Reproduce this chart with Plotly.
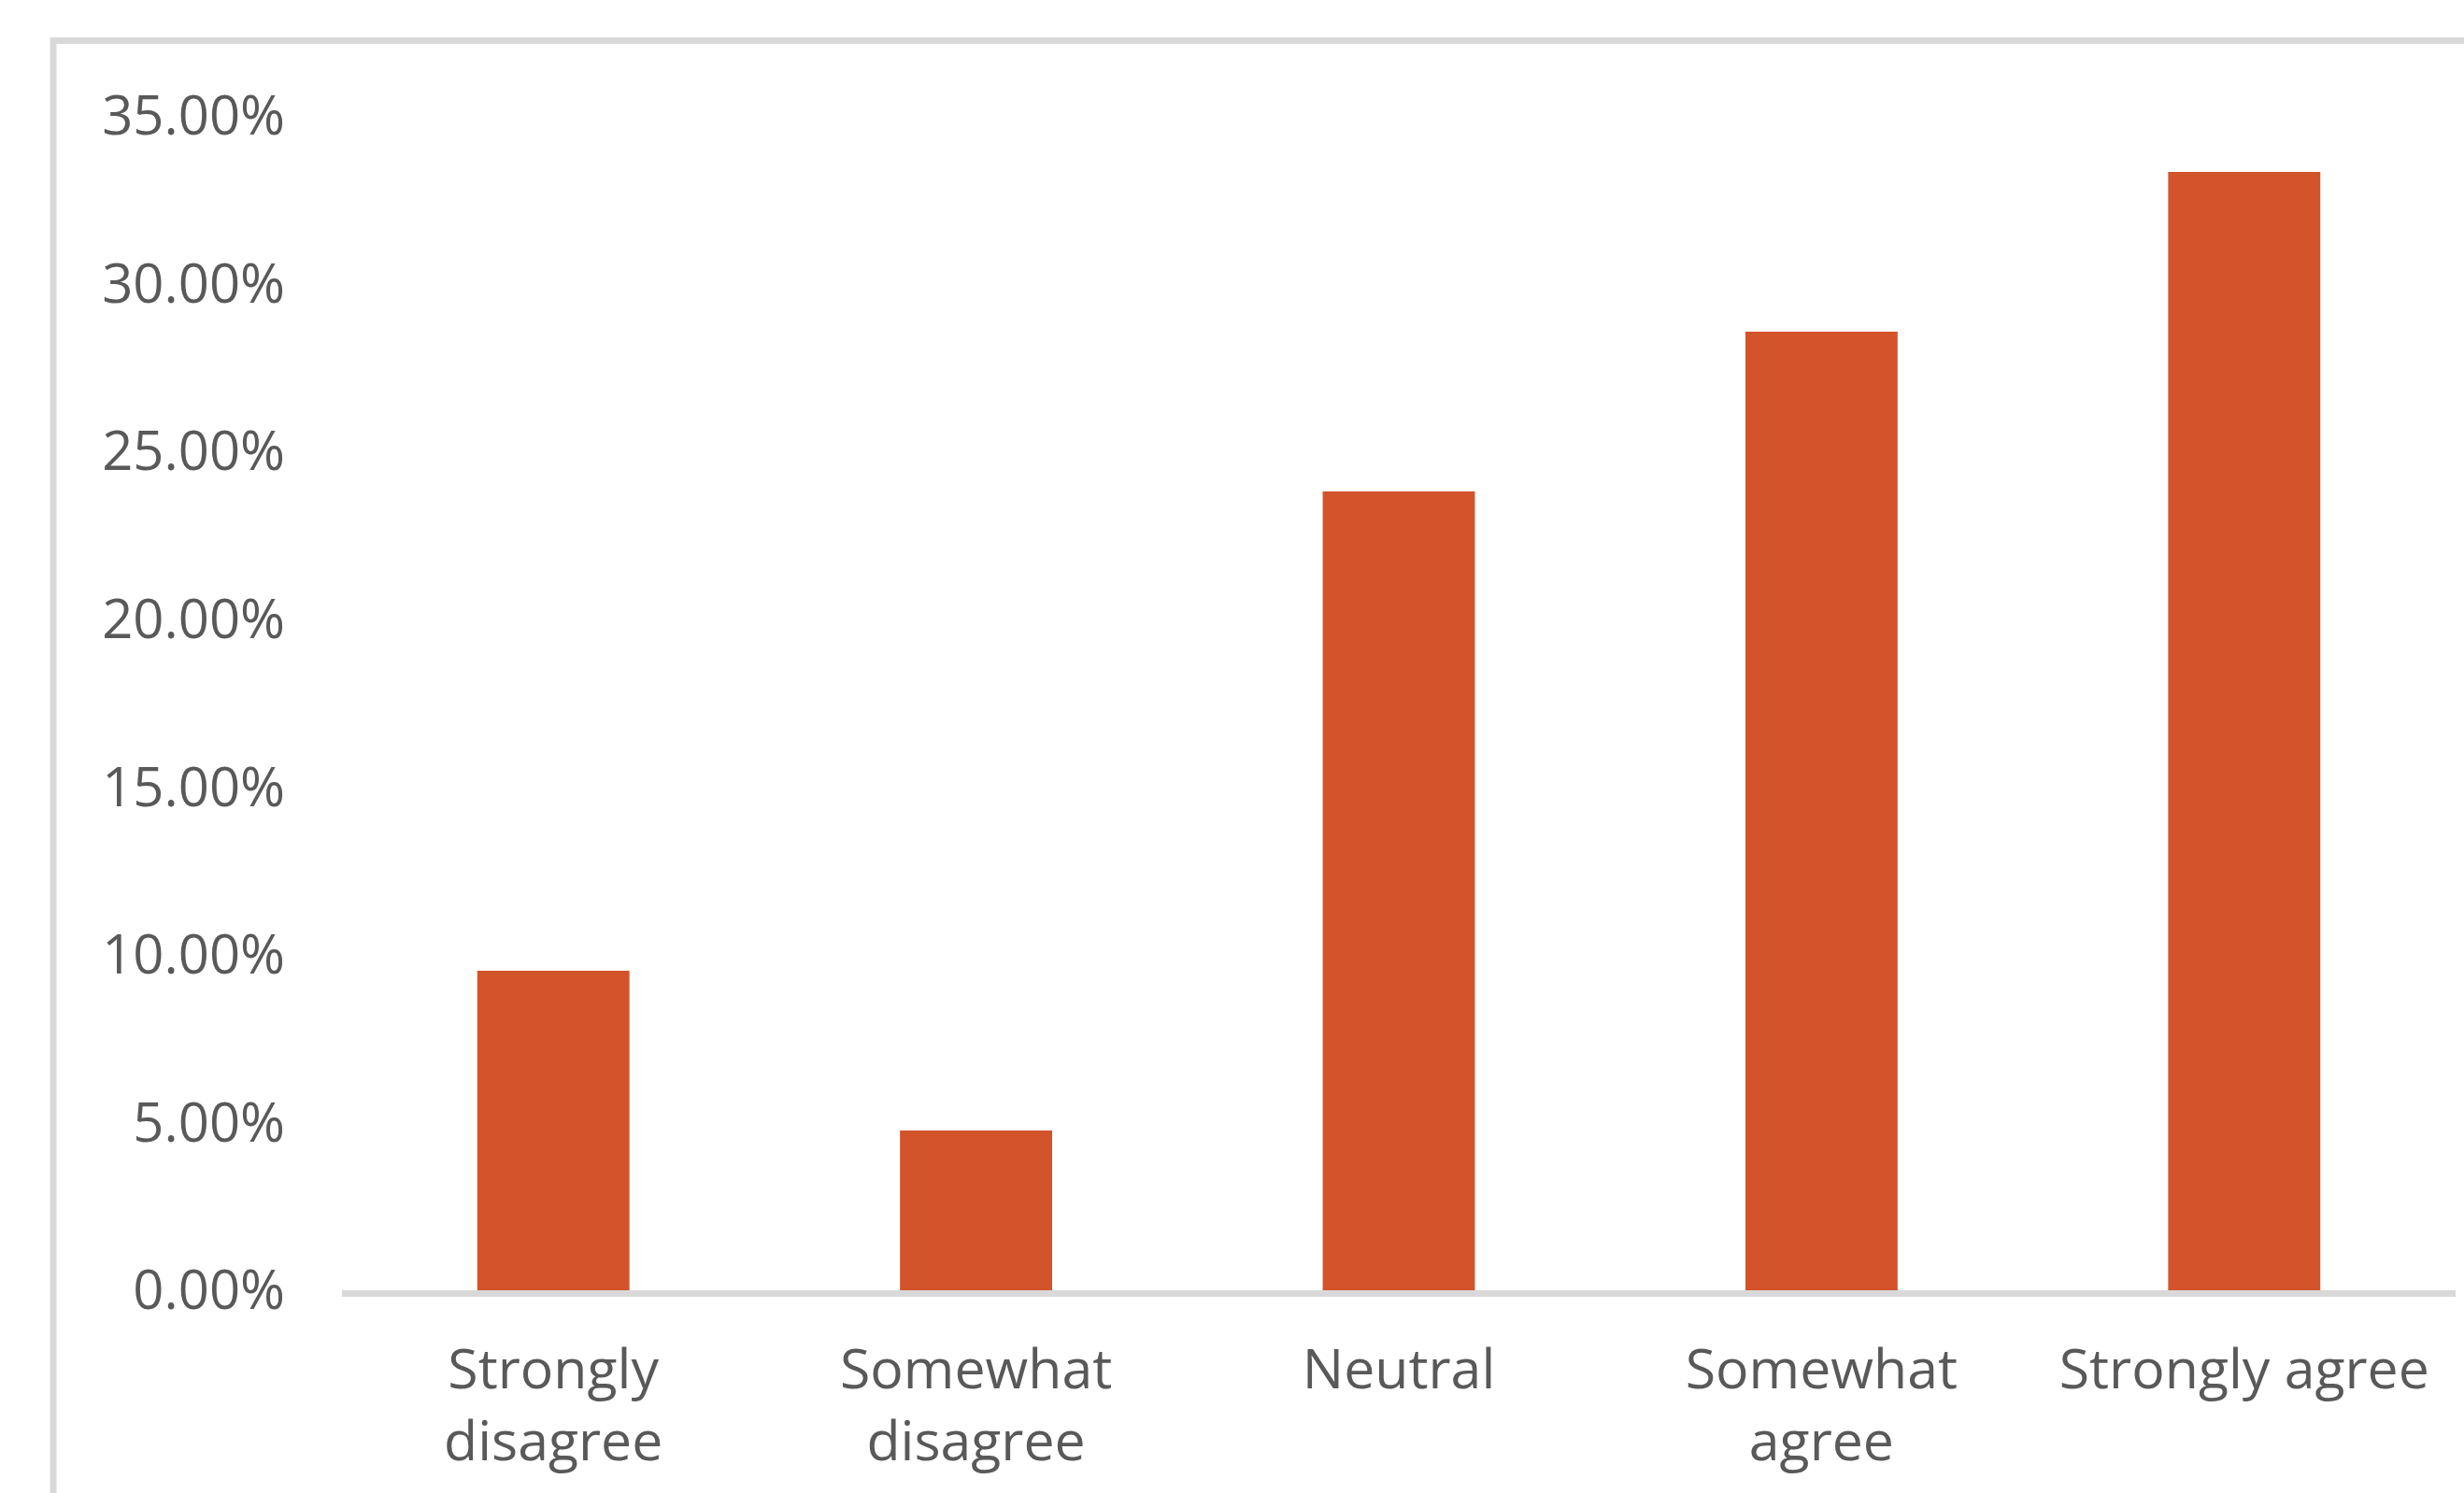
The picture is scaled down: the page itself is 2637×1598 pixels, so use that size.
import plotly.graph_objects as go

categories = ["Strongly<br>disagree", "Somewhat<br>disagree", "Neutral", "Somewhat<br>agree", "Strongly agree"]
values = [0.0952, 0.0476, 0.2381, 0.2857, 0.3333]
y_ticks = [0.0, 0.05, 0.10, 0.15, 0.20, 0.25, 0.30, 0.35]
y_tick_labels = ["0.00%", "5.00%", "10.00%", "15.00%", "20.00%", "25.00%", "30.00%", "35.00%"]

W, H = 2637, 1598
L, R, T, B = 366, 9, 124, 217
plot_w = W - L - R
plot_h = H - T - B

def px_x(x):
    return (x - L) / plot_w

def px_y(y):
    return (H - B - y) / plot_h

TEXT = "#595959"
FONT = "Open Sans"
GRID = "#D9D9D9"

fig = go.Figure(go.Bar(
    x=categories, y=values,
    marker=dict(color="#D3532B", line=dict(width=0)),
    width=0.36,
))

fig.update_layout(
    width=W, height=H,
    margin=dict(l=L, r=R, t=T, b=B, pad=0),
    paper_bgcolor="white", plot_bgcolor="white",
    showlegend=False,
    font=dict(family=FONT, size=57, color=TEXT),
    xaxis=dict(
        showgrid=False, zeroline=False,
        showline=True, linecolor=GRID, linewidth=7,
        ticks="", ticklabelstandoff=27,
        tickfont=dict(family=FONT, size=59, color=TEXT),
        fixedrange=True,
    ),
    yaxis=dict(
        range=[0, 0.35],
        tickvals=y_ticks, ticktext=y_tick_labels,
        showgrid=False, zeroline=False, showline=False,
        ticks="", ticklabelstandoff=60,
        tickfont=dict(family=FONT, size=58, color=TEXT),
        fixedrange=True,
    ),
    shapes=[
        dict(type="line", xref="paper", yref="paper",
             x0=px_x(54), x1=px_x(W + 5), y0=px_y(43.5), y1=px_y(43.5),
             line=dict(color=GRID, width=7), layer="above"),
        dict(type="line", xref="paper", yref="paper",
             x0=px_x(57), x1=px_x(57), y0=px_y(40), y1=px_y(H + 5),
             line=dict(color=GRID, width=7), layer="above"),
    ],
)

fig.write_html("out.html")
